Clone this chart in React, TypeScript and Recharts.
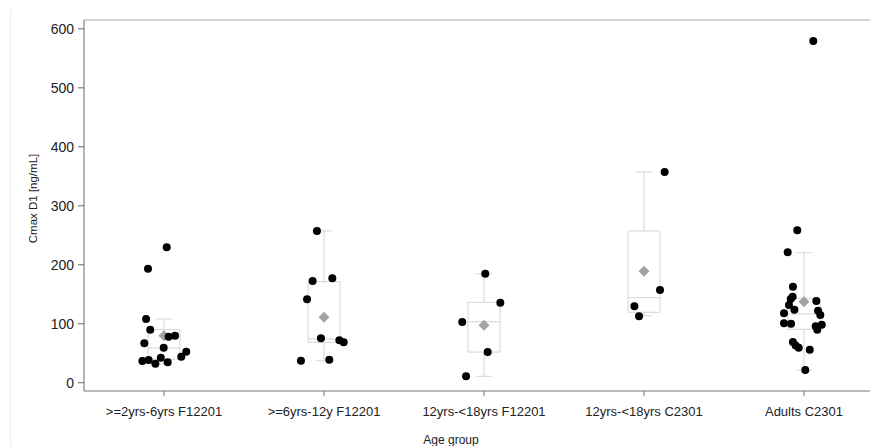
import React from 'react';
import {
  ComposedChart,
  Scatter,
  XAxis,
  YAxis,
  ReferenceArea,
  ReferenceLine,
} from 'recharts';

const categories = [
  '>=2yrs-6yrs F12201',
  '>=6yrs-12y F12201',
  '12yrs-<18yrs F12201',
  '12yrs-<18yrs C2301',
  'Adults C2301',
];

// individual Cmax values per group, with horizontal jitter offsets
const g1Values = [229.7, 193.4, 108, 90, 79.7, 78, 66.8, 59.4, 52.6, 44.1, 42.4, 36.8, 38.5, 34.6, 32.2];
const g1Jitter = [0.017, -0.1, -0.112, -0.086, 0.069, 0.029, -0.123, -0.002, 0.139, 0.108, -0.02, -0.135, -0.096, 0.023, -0.054];
const g2Values = [257.3, 177.1, 172.5, 141.5, 75.3, 71.9, 68.5, 37.3, 39];
const g2Jitter = [-0.044, 0.052, -0.071, -0.106, -0.019, 0.096, 0.123, -0.144, 0.033];
const g3Values = [184.9, 135.7, 103, 52.1, 10.9];
const g3Jitter = [0.008, 0.102, -0.136, 0.023, -0.112];
const g4Values = [357.4, 157.3, 129.6, 112.6];
const g4Jitter = [0.129, 0.1, -0.06, -0.031];
const g5Values = [579.6, 258.5, 221.2, 162.9, 145.9, 142, 138.6, 131.8, 123.8, 122.1, 117.7, 114.9, 100.8, 100.1, 98.4, 95.7, 89.9, 69, 63.3, 59.4, 56, 21.5];
const g5Jitter = [0.058, -0.042, -0.102, -0.069, -0.071, -0.083, 0.077, -0.094, -0.06, 0.088, -0.125, 0.102, -0.125, -0.081, 0.111, 0.073, 0.083, -0.069, -0.052, -0.033, 0.036, 0.008];

// box plot summary per group
const q1s = [40, 68.5, 52, 119.4, 90.6];
const medians = [59, 74, 103.5, 144.2, 116.5];
const q3s = [90, 171.3, 136.4, 257.3, 143.2];
const whiskerLow = [32, 37.3, 10.9, 113.7, 21.5];
const whiskerHigh = [108, 257.3, 184.9, 357.4, 220.5];
const means = [79.7, 110.9, 97.4, 189, 137.4];

const yTicks = [0, 100, 200, 300, 400, 500, 600];

const groups = [
  [g1Values, g1Jitter],
  [g2Values, g2Jitter],
  [g3Values, g3Jitter],
  [g4Values, g4Jitter],
  [g5Values, g5Jitter],
];

const points = groups.flatMap(([vals, jit], i) =>
  vals.map((v, j) => ({ x: i + 1 + jit[j], y: v }))
);
const meanData = means.map((m, i) => ({ x: i + 1, y: m }));

const BOX_HALF = 0.1;
const CAP_HALF = 0.05;
const boxStroke = '#d4d4d4';

const Dot = (props: any) => <circle cx={props.cx} cy={props.cy} r={4} fill="#000" />;
const Diamond = (props: any) => {
  const { cx, cy } = props;
  const s = 5.5;
  return (
    <polygon
      points={`${cx},${cy - s} ${cx + s},${cy} ${cx},${cy + s} ${cx - s},${cy}`}
      fill="#a3a3a3"
    />
  );
};

const YLabel = (props: any) => {
  const { viewBox } = props;
  const x = viewBox.x + 24.5;
  const y = viewBox.y + viewBox.height / 2 - 7;
  return (
    <text
      x={x}
      y={y}
      transform={`rotate(-90, ${x}, ${y})`}
      textAnchor="middle"
      dominantBaseline="central"
      fontSize={11.5}
      fill="#222"
    >
      Cmax D1 [ng/mL]
    </text>
  );
};

const XLabel = (props: any) => {
  const { viewBox } = props;
  return (
    <text x={viewBox.x + 367} y={viewBox.y + 53} textAnchor="middle" fontSize={12} fill="#222">
      Age group
    </text>
  );
};

export default function App() {
  return (
    <div
      style={{
        position: 'relative',
        width: 870,
        height: 438,
        overflow: 'hidden',
        fontFamily: '"Liberation Sans", Arial, sans-serif',
      }}
    >
      <div style={{ position: 'absolute', left: 2, top: 2, bottom: 0, width: 1, background: '#ececec' }} />
      <ComposedChart width={900} height={438} margin={{ top: 12, right: 24, left: 0, bottom: 0 }}>
        <XAxis
          type="number"
          dataKey="x"
          domain={[0.5, 5.5]}
          ticks={[1, 2, 3, 4, 5]}
          interval={0}
          allowDataOverflow
          tickFormatter={(v: number) => categories[v - 1] ?? ''}
          tick={{ fontSize: 13, fill: '#222' }}
          tickSize={5}
          tickMargin={11}
          height={55}
          stroke="#777"
          label={<XLabel />}
        />
        <YAxis
          type="number"
          dataKey="y"
          domain={[-14, 615]}
          ticks={yTicks}
          interval={0}
          allowDataOverflow
          width={76}
          tick={{ fontSize: 14, fill: '#222' }}
          tickSize={6}
          tickMargin={4}
          stroke="#666"
          label={<YLabel />}
        />
        <ReferenceLine y={615} stroke="#aaa" />
        {categories.map((_, i) => (
          <ReferenceArea
            key={`box${i}`}
            x1={i + 1 - BOX_HALF}
            x2={i + 1 + BOX_HALF}
            y1={q1s[i]}
            y2={q3s[i]}
            fill="none"
            fillOpacity={0}
            stroke={boxStroke}
            strokeOpacity={1}
          />
        ))}
        {categories.map((_, i) => (
          <ReferenceLine
            key={`med${i}`}
            segment={[{ x: i + 1 - BOX_HALF, y: medians[i] }, { x: i + 1 + BOX_HALF, y: medians[i] }]}
            stroke={boxStroke}
          />
        ))}
        {categories.map((_, i) => (
          <ReferenceLine
            key={`wu${i}`}
            segment={[{ x: i + 1, y: q3s[i] }, { x: i + 1, y: whiskerHigh[i] }]}
            stroke={boxStroke}
          />
        ))}
        {categories.map((_, i) => (
          <ReferenceLine
            key={`wl${i}`}
            segment={[{ x: i + 1, y: q1s[i] }, { x: i + 1, y: whiskerLow[i] }]}
            stroke={boxStroke}
          />
        ))}
        {categories.map((_, i) => (
          <ReferenceLine
            key={`cu${i}`}
            segment={[{ x: i + 1 - CAP_HALF, y: whiskerHigh[i] }, { x: i + 1 + CAP_HALF, y: whiskerHigh[i] }]}
            stroke={boxStroke}
          />
        ))}
        {categories.map((_, i) => (
          <ReferenceLine
            key={`cl${i}`}
            segment={[{ x: i + 1 - CAP_HALF, y: whiskerLow[i] }, { x: i + 1 + CAP_HALF, y: whiskerLow[i] }]}
            stroke={boxStroke}
          />
        ))}
        <Scatter data={meanData} shape={<Diamond />} isAnimationActive={false} />
        <Scatter data={points} shape={<Dot />} isAnimationActive={false} />
      </ComposedChart>
    </div>
  );
}
